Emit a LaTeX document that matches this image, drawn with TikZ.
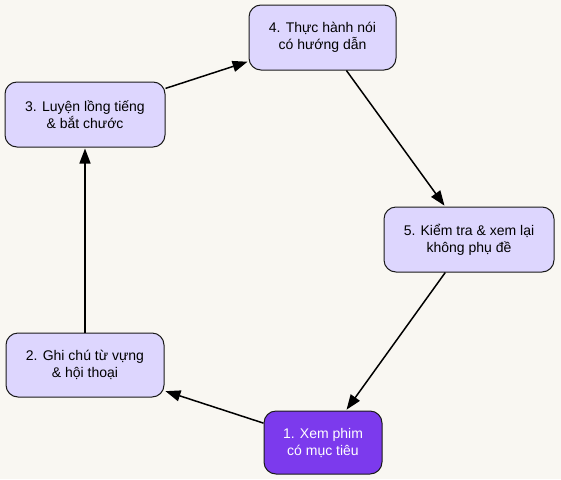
\documentclass[tikz,border=0pt]{standalone}
\usepackage{fontspec}
\setmainfont{Liberation Sans}
\usetikzlibrary{arrows.meta}
\definecolor{bgc}{HTML}{F9F7F2}
\definecolor{lav}{HTML}{DDD6FE}
\definecolor{vio}{HTML}{7C3AED}
\definecolor{edgec}{HTML}{1A1A1A}
\tikzset{
  stepbox/.style={draw=edgec, line width=1pt, fill=lav, rounded corners=12pt,
    align=center, inner sep=0pt, minimum height=64pt,
    font=\fontsize{14pt}{17pt}\selectfont, text=black},
  startbox/.style={stepbox, fill=vio, text=white},
  flow/.style={line width=1.5pt, draw=black, -{Triangle[length=15pt,width=11pt]}, shorten >=1pt, shorten <=0pt}
}
\begin{document}
\begin{tikzpicture}[x=1pt,y=-1pt]
\fill[bgc] (0,0) rectangle (561,479);
\useasboundingbox (0,0) rectangle (561,479);
\node[startbox, minimum width=118pt, minimum height=63pt] (n1) at (323,442.5) {1. Xem phim\\có mục tiêu};
\node[stepbox, minimum width=158pt] (n2) at (85,365) {2. Ghi chú từ vựng\\\& hội thoại};
\node[stepbox, minimum width=160pt, minimum height=65pt] (n3) at (85,114.5) {3. Luyện lồng tiếng\\\& bắt chước};
\node[stepbox, minimum width=147pt, minimum height=65pt] (n4) at (322.5,37.5) {4. Thực hành nói\\có hướng dẫn};
\node[stepbox, minimum width=170pt, minimum height=65pt] (n5) at (469,239.5) {5. Kiểm tra \& xem lại\\không phụ đề};
\draw[flow] (n1) -- (n2);
\draw[flow] (n2) -- (n3);
\draw[flow] (n3) -- (n4);
\draw[flow] (n4) -- (n5);
\draw[flow] (n5) -- (n1);
\end{tikzpicture}
\end{document}
